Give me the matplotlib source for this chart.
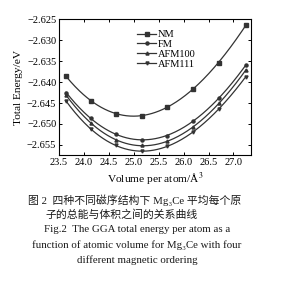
import numpy as np
import matplotlib
matplotlib.use('Agg')
import matplotlib.pyplot as plt

plt.rcParams['font.family'] = ['Liberation Serif', 'Noto Sans CJK SC', 'DejaVu Sans']
plt.rcParams['mathtext.fontset'] = 'stix'

# volume per atom (A^3) and total energy (eV)
volume = [23.64, 24.14, 24.65, 25.16, 25.67, 26.19, 26.71, 27.25]
e_nm = [-2.6386, -2.6445, -2.6476, -2.6480, -2.6459, -2.6416, -2.6354, -2.6264]
e_fm = [-2.6425, -2.6486, -2.6525, -2.6538, -2.6528, -2.6493, -2.6437, -2.6360]
e_afm100 = [-2.6431, -2.6498, -2.6539, -2.6551, -2.6540, -2.6508, -2.6451, -2.6371]
e_afm111 = [-2.6445, -2.6513, -2.6551, -2.6565, -2.6553, -2.6519, -2.6464, -2.6387]
labels = ['NM', 'FM', 'AFM100', 'AFM111']
markers = ['s', 'o', '^', 'v']

fig = plt.figure(figsize=(2.91, 2.84), dpi=100)
ax = fig.add_axes([0.203, 0.454, 0.659, 0.479])

xs = np.linspace(volume[0], volume[-1], 200)
for e, lab, m in zip([e_nm, e_fm, e_afm100, e_afm111], labels, markers):
    # smooth curve through the points, like the original
    c = np.polyfit(volume, e, 3)
    ax.plot(xs, np.polyval(c, xs), color='#333333', lw=0.9)
    ax.plot(volume, e, ls='none', marker=m, ms=2.2, color='#333333')
    ax.plot([], [], color='#333333', lw=0.9, marker=m, ms=2.2, label=lab)

ax.set_xlim(23.5, 27.35)
ax.set_ylim(-2.6574, -2.625)
ax.set_xticks([23.5, 24.0, 24.5, 25.0, 25.5, 26.0, 26.5, 27.0])
ax.set_yticks([-2.625, -2.630, -2.635, -2.640, -2.645, -2.650, -2.655])
ax.set_yticklabels(['\u2212%.3f' % abs(v) for v in ax.get_yticks()])
ax.tick_params(direction='in', top=True, right=True, labelsize=7.5, length=2.5, width=0.7, pad=2)
for s in ax.spines.values():
    s.set_linewidth(0.8)
ax.set_xlabel('Volume per atom/Å$^3$', fontsize=8.2, labelpad=2)
ax.set_ylabel('Total Energy/eV', fontsize=8.2, labelpad=3)
ax.legend(loc='upper center', bbox_to_anchor=(0.56, 0.95), frameon=False, fontsize=7.5,
          handlelength=1.8, handletextpad=0.2, labelspacing=0.05, borderaxespad=0)

cap = ['图 2  四种不同磁序结构下 Mg\u2083Ce 平均每个原',
       '子的总能与体积之间的关系曲线',
       'Fig.2  The GGA total energy per atom as a',
       'function of atomic volume for Mg\u2083Ce with four',
       'different magnetic ordering']
cap_x = [135, 122, 137, 137, 137]
cap_y = [200, 215, 230, 245.5, 260.5]
for t, x, y in zip(cap, cap_x, cap_y):
    fig.text(x / 291, 1 - y / 284, t, ha='center', va='center', fontsize=7.8,
             family=['Liberation Serif', 'Noto Sans CJK SC', 'DejaVu Sans'], color='#1a1a1a')

fig.savefig('out.png', dpi=100)
